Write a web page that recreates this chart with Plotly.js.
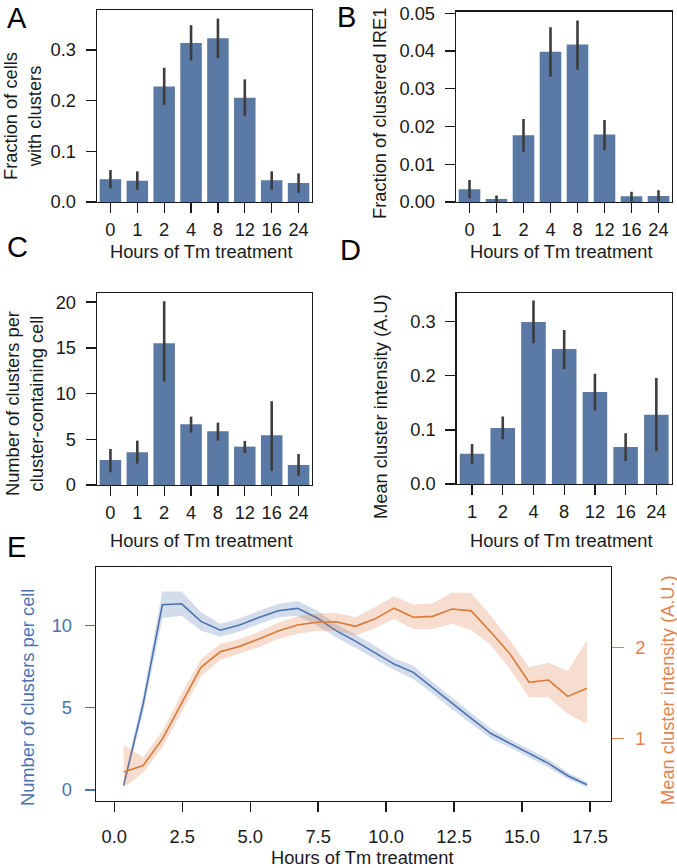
<!DOCTYPE html>
<html><head><meta charset="utf-8">
<script src="https://cdn.plot.ly/plotly-3.0.1.min.js"></script>
<style>html,body{margin:0;padding:0;background:#fff}#chart{width:677px;height:868px}</style>
</head><body><div id="chart"></div>
<script>
// ---------- data ----------
const hoursCats = ['0','1','2','4','8','12','16','24'];
const hoursCatsD = ['1','2','4','8','12','16','24'];

// A: fraction of cells with clusters
const fracCells   = [0.045, 0.042, 0.228, 0.314, 0.323, 0.206, 0.043, 0.0375];
const fracCellsLo = [0.027, 0.024, 0.192, 0.279, 0.284, 0.170, 0.024, 0.018];
const fracCellsHi = [0.063, 0.0605, 0.265, 0.349, 0.362, 0.242, 0.0605, 0.0566];

// B: fraction of clustered IRE1
const fracIRE1   = [0.0034, 0.0008, 0.0177, 0.0398, 0.0417, 0.0179, 0.0015, 0.0016];
const fracIRE1Lo = [0.0009, 0.0000, 0.0133, 0.0332, 0.0350, 0.0137, 0.0002, 0.0001];
const fracIRE1Hi = [0.0058, 0.0017, 0.0220, 0.0463, 0.0481, 0.0217, 0.0027, 0.0031];

// C: number of clusters per cluster-containing cell
const nClusters   = [2.74, 3.58, 15.51, 6.64, 5.88, 4.20, 5.44, 2.19];
const nClustersLo = [1.39, 2.34, 11.31, 5.73, 4.85, 3.50, 1.53, 1.02];
const nClustersHi = [3.94, 4.85, 20.10, 7.48, 6.82, 4.82, 9.16, 3.39];

// D: mean cluster intensity
const meanInt   = [0.056, 0.1035, 0.2995, 0.2495, 0.170, 0.0684, 0.128];
const meanIntLo = [0.0376, 0.0826, 0.260, 0.2126, 0.136, 0.0425, 0.0604];
const meanIntHi = [0.074, 0.125, 0.339, 0.2847, 0.204, 0.0937, 0.196];

// E: time course
const hoursE = [0.35,1.06,1.77,2.48,3.19,3.90,4.61,5.32,6.03,6.74,7.45,8.16,8.87,9.58,10.29,11.00,11.71,12.42,13.13,13.84,14.55,15.26,15.97,16.68,17.39];
const clustersPerCell = [0.30,5.20,11.27,11.33,10.26,9.72,10.04,10.50,10.91,11.05,10.48,9.70,9.06,8.37,7.66,7.16,6.22,5.27,4.36,3.45,2.84,2.23,1.62,0.87,0.32];
const clustersLo      = [0.05,4.70,10.45,10.60,9.70,9.32,9.64,10.10,10.51,10.60,10.03,9.30,8.66,7.97,7.31,6.76,5.87,4.92,4.06,3.15,2.59,1.98,1.37,0.67,0.17];
const clustersHi      = [0.55,5.70,12.08,12.08,10.82,10.12,10.44,10.90,11.31,11.50,10.93,10.10,9.46,8.77,8.01,7.56,6.57,5.62,4.66,3.75,3.09,2.48,1.87,1.07,0.47];
const intensity   = [0.63,0.70,0.99,1.39,1.78,1.95,2.01,2.09,2.18,2.245,2.275,2.28,2.23,2.31,2.43,2.33,2.34,2.42,2.40,2.17,1.93,1.615,1.64,1.46,1.55];
const intensityLo = [0.46,0.62,0.90,1.29,1.68,1.86,1.93,2.00,2.09,2.15,2.18,2.18,2.13,2.21,2.31,2.20,2.20,2.26,2.19,2.03,1.76,1.45,1.45,1.27,1.16];
const intensityHi = [0.93,0.79,1.08,1.49,1.87,2.04,2.09,2.17,2.27,2.34,2.37,2.38,2.33,2.44,2.56,2.47,2.48,2.60,2.60,2.35,2.08,1.78,1.83,1.74,2.08];

// ---------- style ----------
const W = 677, H = 868;
const BAR = '#5b79a5', ERR = '#3d3d3d';
const BLUE = '#4c72b0', ORANGE = '#dd8452', ORANGE_LINE = '#d97a36';
const FONT = 'Liberation Sans, Arial, Helvetica, sans-serif';
const INK = '#1a1a1a';
const FS = 18.3;
const dx = (a, b) => [a / W, b / W];
const dy = (top, bot) => [1 - bot / H, 1 - top / H];

function barTrace(cats, vals, lo, hi, xa, ya) {
  return {
    type: 'bar', x: cats, y: vals, xaxis: xa, yaxis: ya, width: 0.8,
    marker: { color: BAR, line: { width: 0 } },
    error_y: {
      type: 'data', symmetric: false,
      array: hi.map((h, i) => h - vals[i]),
      arrayminus: vals.map((v, i) => v - lo[i]),
      color: ERR, thickness: 2.6, width: 0
    },
    hoverinfo: 'skip', showlegend: false
  };
}

const base = {
  showline: true, linecolor: INK, linewidth: 1.3, mirror: true,
  ticks: 'outside', ticklen: 10, tickwidth: 1.3, tickcolor: INK,
  showgrid: false, zeroline: false, automargin: false, fixedrange: true,
  tickfont: { family: FONT, size: FS, color: INK }
};
const catX = (dom, n, anchor) => Object.assign({}, base, {
  type: 'category', range: [-0.5, n - 0.5], domain: dom, anchor: anchor, ticklabelstandoff: 1
});
const numY = (dom, range, dtick, fmt, anchor) => Object.assign({}, base, {
  domain: dom, range: range, dtick: dtick, tick0: 0, tickformat: fmt, anchor: anchor, ticklabelstandoff: 6
});

const traces = [
  barTrace(hoursCats, fracCells, fracCellsLo, fracCellsHi, 'x', 'y'),
  barTrace(hoursCats, fracIRE1, fracIRE1Lo, fracIRE1Hi, 'x2', 'y2'),
  barTrace(hoursCats, nClusters, nClustersLo, nClustersHi, 'x3', 'y3'),
  barTrace(hoursCatsD, meanInt, meanIntLo, meanIntHi, 'x4', 'y4'),
  // E: blue band + line
  { type: 'scatter', mode: 'lines', x: hoursE, y: clustersHi, xaxis: 'x5', yaxis: 'y5',
    line: { width: 0, color: BLUE }, hoverinfo: 'skip', showlegend: false },
  { type: 'scatter', mode: 'lines', x: hoursE, y: clustersLo, xaxis: 'x5', yaxis: 'y5',
    line: { width: 0, color: BLUE }, fill: 'tonexty', fillcolor: 'rgba(76,114,176,0.25)',
    hoverinfo: 'skip', showlegend: false },
  { type: 'scatter', mode: 'lines', x: hoursE, y: clustersPerCell, xaxis: 'x5', yaxis: 'y5',
    line: { width: 1.6, color: BLUE }, hoverinfo: 'skip', showlegend: false },
  // E: orange band + line
  { type: 'scatter', mode: 'lines', x: hoursE, y: intensityHi, xaxis: 'x5', yaxis: 'y6',
    line: { width: 0, color: ORANGE }, hoverinfo: 'skip', showlegend: false },
  { type: 'scatter', mode: 'lines', x: hoursE, y: intensityLo, xaxis: 'x5', yaxis: 'y6',
    line: { width: 0, color: ORANGE }, fill: 'tonexty', fillcolor: 'rgba(221,132,82,0.28)',
    hoverinfo: 'skip', showlegend: false },
  { type: 'scatter', mode: 'lines', x: hoursE, y: intensity, xaxis: 'x5', yaxis: 'y6',
    line: { width: 1.6, color: ORANGE_LINE }, hoverinfo: 'skip', showlegend: false }
];

function ann(text, x, y, opts) {
  return Object.assign({
    text: text, x: x / W, y: 1 - y / H, xref: 'paper', yref: 'paper',
    xanchor: 'center', yanchor: 'middle', showarrow: false,
    font: { family: FONT, size: FS, color: INK }
  }, opts || {});
}
const vt = (text, x, y, color) => ann(text, x, y, { textangle: -90, font: { family: FONT, size: FS, color: color || INK } });
const letter = (t, x, y) => ann(t, x, y, { font: { family: FONT, size: 29, color: '#000' } });

const layout = {
  width: W, height: H, margin: { l: 0, r: 0, t: 0, b: 0 },
  paper_bgcolor: '#fff', plot_bgcolor: '#fff', showlegend: false,
  font: { family: FONT, size: FS, color: INK },
  xaxis: catX(dx(97, 312), 8, 'y'),
  yaxis: numY(dy(10, 202), [0, 0.379], 0.1, '.1f', 'x'),
  xaxis2: catX(dx(456, 672), 8, 'y2'),
  yaxis2: numY(dy(11.7, 202), [0, 0.0504], 0.01, '.2f', 'x2'),
  xaxis3: catX(dx(97, 312), 8, 'y3'),
  yaxis3: numY(dy(293, 485), [0, 21.0], 5, 'd', 'x3'),
  xaxis4: catX(dx(456.7, 671.7), 7, 'y4'),
  yaxis4: numY(dy(293.3, 484), [0, 0.3525], 0.1, '.1f', 'x4'),
  xaxis5: Object.assign({}, base, {
    domain: dx(96, 610.7), range: [-0.67, 18.26], dtick: 2.5, tick0: 0, tickformat: '.1f',
    anchor: 'y5', ticklabelstandoff: 9
  }),
  yaxis5: Object.assign({}, base, {
    domain: dy(567.3, 800.7), range: [-0.65, 13.55], dtick: 5, tick0: 0, anchor: 'x5',
    tickcolor: BLUE, tickfont: { family: FONT, size: FS, color: BLUE }, ticklabelstandoff: 9
  }),
  yaxis6: {
    overlaying: 'y5', side: 'right', anchor: 'x5', range: [0.314, 2.879], dtick: 1, tick0: 0,
    showline: false, showgrid: false, zeroline: false, automargin: false, fixedrange: true,
    ticks: 'outside', ticklen: 12, tickwidth: 1.3, tickcolor: ORANGE,
    tickfont: { family: FONT, size: FS, color: ORANGE }, ticklabelstandoff: 8
  },
  annotations: [
    letter('A', 17, 18), letter('B', 346, 17), letter('C', 17, 247), letter('D', 350, 250), letter('E', 16, 547),
    ann('Hours of Tm treatment', 201.5, 252), ann('Hours of Tm treatment', 561.7, 252),
    ann('Hours of Tm treatment', 201.5, 540), ann('Hours of Tm treatment', 561.7, 540),
    ann('Hours of Tm treatment', 362.5, 857),
    vt('Fraction of cells<br>with clusters', 23, 116),
    vt('Fraction of clustered IRE1', 380, 113),
    vt('Number of clusters per<br>cluster-containing cell', 24, 404),
    vt('Mean cluster intensity (A.U)', 380, 406),
    vt('Number of clusters per cell', 27, 698, BLUE),
    vt('Mean cluster intensity (A.U.)', 667, 690, ORANGE)
  ]
};

Plotly.newPlot('chart', traces, layout, { staticPlot: true, displayModeBar: false });
</script></body></html>
